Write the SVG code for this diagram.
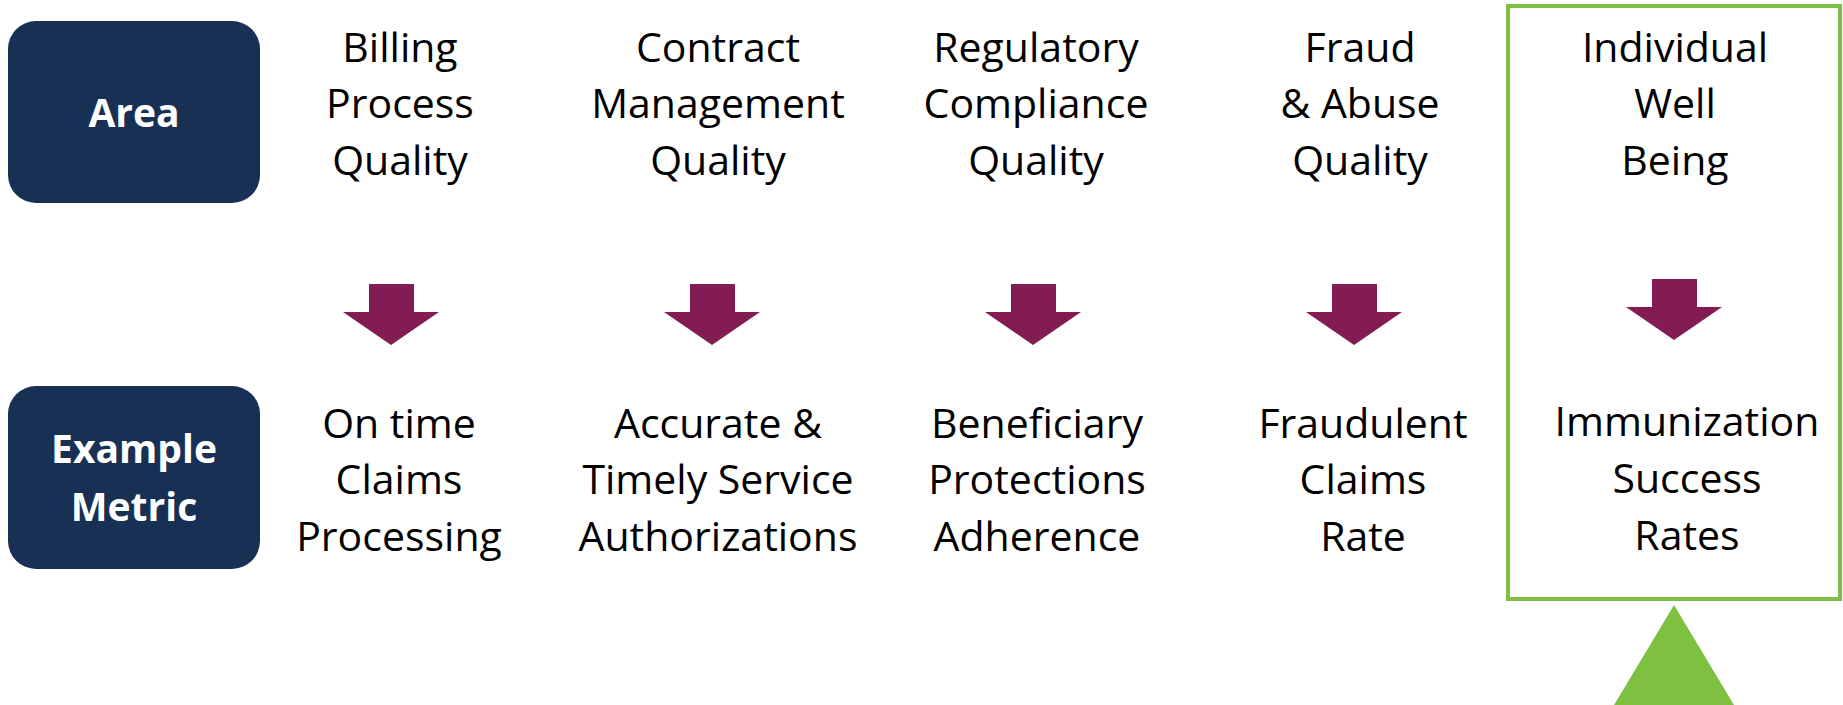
<svg xmlns="http://www.w3.org/2000/svg" width="1843" height="705" viewBox="0 0 1843 705">
<style>
.lbl{fill:#ffffff;font-family:"Open Sans","Liberation Sans",sans-serif;font-weight:bold;font-size:39px;text-anchor:middle}
.txt{fill:#000000;font-family:"Open Sans","Liberation Sans",sans-serif;font-size:41px;text-anchor:middle}
.hdr{fill:#183054}
.arr{fill:#821c52}
</style>
<rect width="1843" height="705" fill="#ffffff"/>
<g id="area-label">
<rect class="hdr" x="8" y="21" width="252" height="182" rx="28"/>
<text class="lbl" x="134" y="127">Area</text>
</g>
<g id="metric-label">
<rect class="hdr" x="8" y="386" width="252" height="183" rx="28"/>
<text class="lbl" x="134" y="463">Example</text>
<text class="lbl" x="134" y="521">Metric</text>
</g>
<g id="area-billing">
<text class="txt" x="400" y="62">Billing</text>
<text class="txt" x="400" y="118">Process</text>
<text class="txt" x="400" y="175">Quality</text>
</g>
<g id="area-contract">
<text class="txt" x="718" y="62">Contract</text>
<text class="txt" x="718" y="118">Management</text>
<text class="txt" x="718" y="175">Quality</text>
</g>
<g id="area-regulatory">
<text class="txt" x="1036" y="62">Regulatory</text>
<text class="txt" x="1036" y="118">Compliance</text>
<text class="txt" x="1036" y="175">Quality</text>
</g>
<g id="area-fraud">
<text class="txt" x="1360" y="62">Fraud</text>
<text class="txt" x="1360" y="118">&amp; Abuse</text>
<text class="txt" x="1360" y="175">Quality</text>
</g>
<g id="area-wellbeing">
<text class="txt" x="1675" y="62">Individual</text>
<text class="txt" x="1675" y="118">Well</text>
<text class="txt" x="1675" y="175">Being</text>
</g>
<g id="metric-claims">
<text class="txt" x="399" y="438">On time</text>
<text class="txt" x="399" y="494">Claims</text>
<text class="txt" x="399" y="551">Processing</text>
</g>
<g id="metric-authorizations">
<text class="txt" x="718" y="438">Accurate &amp;</text>
<text class="txt" x="718" y="494">Timely Service</text>
<text class="txt" x="718" y="551">Authorizations</text>
</g>
<g id="metric-protections">
<text class="txt" x="1037" y="438">Beneficiary</text>
<text class="txt" x="1037" y="494">Protections</text>
<text class="txt" x="1037" y="551">Adherence</text>
</g>
<g id="metric-fraud">
<text class="txt" x="1363" y="438">Fraudulent</text>
<text class="txt" x="1363" y="494">Claims</text>
<text class="txt" x="1363" y="551">Rate</text>
</g>
<g id="metric-immunization">
<text class="txt" x="1687" y="436">Immunization</text>
<text class="txt" x="1687" y="493">Success</text>
<text class="txt" x="1687" y="550">Rates</text>
</g>
<g id="highlight">
<rect x="1508" y="6" width="332" height="593" fill="none" stroke="#7ec042" stroke-width="4"/>
<polygon points="1674,605 1734,705 1614,705" fill="#7ec042"/>
</g>
<g id="connectors">
<polygon class="arr" points="369,284 414,284 414,312 439,312 391,345 343,312 369,312"/>
<polygon class="arr" points="690,284 735,284 735,312 760,312 712,345 664,312 690,312"/>
<polygon class="arr" points="1011,284 1056,284 1056,312 1081,312 1033,345 985,312 1011,312"/>
<polygon class="arr" points="1332,284 1377,284 1377,312 1402,312 1354,345 1306,312 1332,312"/>
<polygon class="arr" points="1652,279 1697,279 1697,307 1722,307 1674,340 1626,307 1652,307"/>
</g>
</svg>
